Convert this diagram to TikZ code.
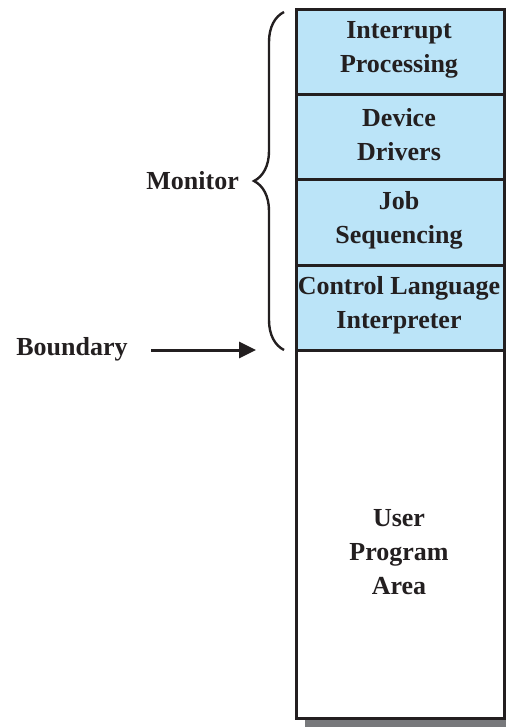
\documentclass[tikz,border=0pt]{standalone}
\usepackage{fontspec}
\setmainfont{Liberation Serif}
\usetikzlibrary{arrows.meta,decorations.pathreplacing}
\definecolor{layerblue}{RGB}{187,228,248}
\definecolor{shadowgray}{RGB}{120,121,124}
\definecolor{ink}{RGB}{35,31,32}
\tikzset{
  lbl/.style={font=\bfseries\fontsize{26}{34}\selectfont, text=ink, align=center, inner sep=0pt},
  layer/.style={draw=ink, line width=3pt, fill=layerblue},
}
\begin{document}
\begin{tikzpicture}[x=1pt,y=-1pt]
\useasboundingbox (0,0) rectangle (506,727);
% drop shadow under the memory column
\fill[shadowgray] (305,20) rectangle (506,727);
% user program area
\draw[draw=ink, line width=3pt, fill=white] (296,350) rectangle (504.5,718);
% monitor layers
\draw[layer] (296,10) rectangle (504.5,95);
\draw[layer] (296,95) rectangle (504.5,180);
\draw[layer] (296,180) rectangle (504.5,265);
\draw[layer] (296,265) rectangle (504.5,350);
\draw[draw=ink, line width=3pt] (296,10) rectangle (504.5,718);
\node[lbl] (intr) at (399,50) {Interrupt\\Processing};
\node[lbl] (drv) at (399,135) {Device\\Drivers};
\node[lbl] (job) at (399,220) {Job\\Sequencing};
\node[lbl] (cli) at (399,305) {Control Language\\Interpreter};
\node[lbl] (user) at (399,552) {User\\Program\\Area};
% brace spanning the monitor
\coordinate (btop) at (284,12);
\coordinate (bbot) at (284,350);
\draw[line width=2.4pt, draw=ink, decorate, decoration={brace, amplitude=30pt, aspect=0.5}] (bbot) -- (btop);
\node[lbl, anchor=east] (mon) at (239,181) {Monitor};
\node[lbl] (bnd) at (72,349) {Boundary};
\coordinate (atip) at (256,350);
\draw[line width=3pt, draw=ink, -{Triangle[length=17pt,width=16pt]}] (151,350) -- (atip);
\end{tikzpicture}
\end{document}
